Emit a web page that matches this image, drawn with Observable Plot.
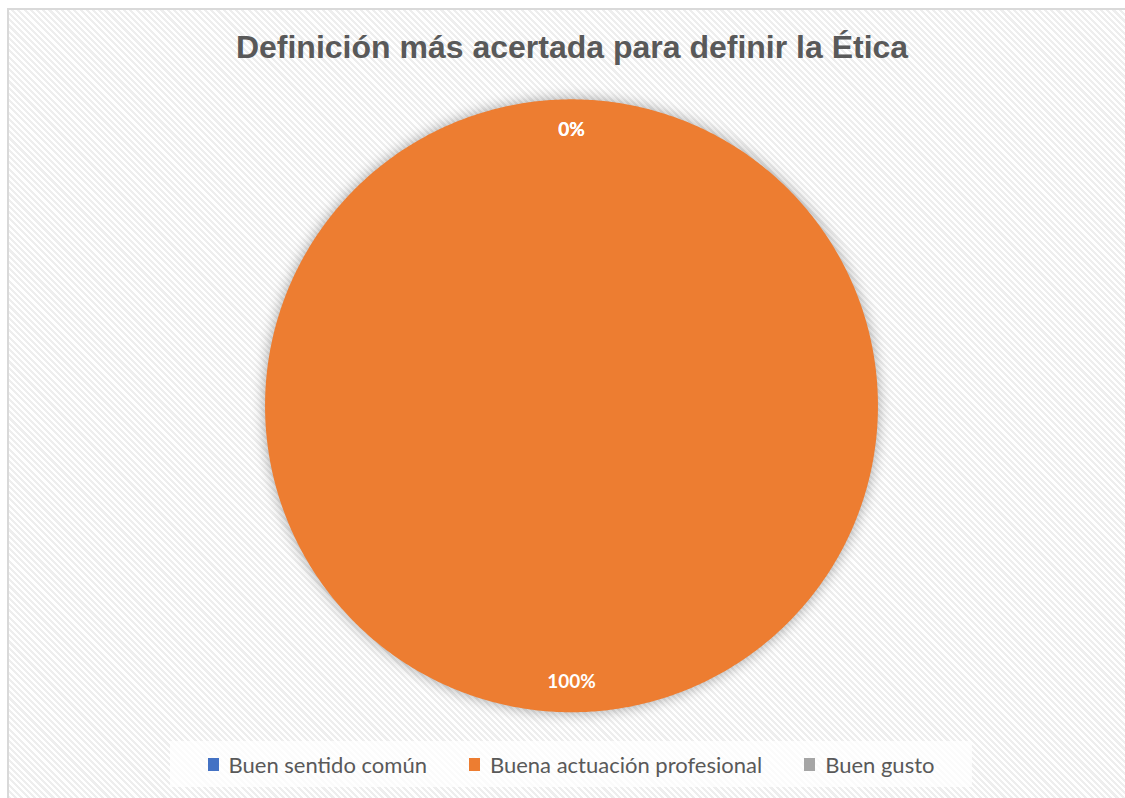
<!DOCTYPE html>
<html>
<head>
<meta charset="utf-8">
<script src="https://cdn.jsdelivr.net/npm/d3@7"></script>
<script src="https://cdn.jsdelivr.net/npm/@observablehq/plot@0.6"></script>
<style>
  html, body { margin: 0; padding: 0; background: #fff; width: 1125px; height: 798px; overflow: hidden; }
  #frame {
    position: absolute; left: 7px; top: 8px; width: 1126px; height: 800px;
    border-top: 2px solid #d9d9d9; border-left: 2px solid #d9d9d9;
    box-sizing: border-box;
    background: repeating-linear-gradient(45deg, #ffffff 0px, #ffffff 2.2px, #eeeeee 2.2px, #eeeeee 4.4px);
  }
  #title {
    position: absolute; left: 0; top: 19px; width: 1126px; text-align: center;
    font-family: "Liberation Sans", Arial, sans-serif; font-weight: bold; font-size: 32px;
    color: #595959; margin: 0;
  }
  #chart { position: absolute; left: 0; top: 0; }
  #legend {
    position: absolute; left: 161px; top: 731px; width: 802px; height: 46px;
    background: rgba(255,255,255,0.75);
    display: flex; align-items: center; justify-content: center; gap: 42px;
    font-family: Lato, "Open Sans", sans-serif; font-size: 22px; color: #595959;
  }
  .item { display: flex; align-items: center; gap: 10px; }
  .sw { width: 11px; height: 13px; display: inline-block; }
</style>
</head>
<body>
<div id="frame">
  <div id="chart"></div>
  <h2 id="title">Definición más acertada para definir la Ética</h2>
  <div id="legend"></div>
</div>
<script>
// Data
const categories = ["Buen sentido común", "Buena actuación profesional", "Buen gusto"];
const values = [0, 100, 0];
const colors = ["#4472C4", "#ED7D31", "#A5A5A5"];
const titleText = "Definición más acertada para definir la Ética";

// Layout
const W = 1126, H = 730, R = 307, CX = 563, CY = 396;

const data = categories.map((c, i) => ({ category: c, value: values[i] }));
const total = d3.sum(values);
const arcs = d3.pie().sort(null).value(d => d.value)(data);

// Build polygon points for each slice from the pie angles
const poly = [];
arcs.forEach(a => {
  const cat = a.data.category;
  poly.push({ category: cat, x: 0, y: 0 });
  const n = Math.max(2, Math.ceil((a.endAngle - a.startAngle) / (Math.PI / 360)));
  for (let k = 0; k <= n; k++) {
    const t = a.startAngle + (a.endAngle - a.startAngle) * k / n;
    poly.push({ category: cat, x: Math.sin(t), y: Math.cos(t) });
  }
  poly.push({ category: cat, x: 0, y: 0 });
});

const labels = arcs.map(a => {
  const m = (a.startAngle + a.endAngle) / 2;
  return {
    category: a.data.category,
    x: 0.9 * Math.sin(m),
    y: 0.9 * Math.cos(m),
    text: Math.round(100 * a.data.value / total) + "%"
  };
});

const chart = Plot.plot({
  width: W, height: H,
  margin: 0,
  style: { background: "transparent", overflow: "visible" },
  x: { domain: [-CX / R, (W - CX) / R], axis: null },
  y: { domain: [-(H - CY) / R, CY / R], axis: null },
  color: { domain: categories, range: colors },
  marks: [
    Plot.line(poly, { x: "x", y: "y", z: "category", fill: "category", stroke: "none", curve: "linear" }),
    Plot.text(labels, {
      x: "x", y: "y", text: "text", fill: "white",
      fontSize: 19, fontWeight: "bold", fontFamily: "Lato, 'Open Sans', sans-serif"
    })
  ]
});
document.getElementById("chart").appendChild(chart);
const lineG = chart.querySelector('g[aria-label="line"]');
if (lineG) lineG.style.filter = "drop-shadow(0px 0px 7px rgba(0,0,0,0.35))";

// Legend
const leg = document.getElementById("legend");
categories.forEach((c, i) => {
  const it = document.createElement("div");
  it.className = "item";
  it.innerHTML = `<span class="sw" style="background:${colors[i]}"></span><span>${c}</span>`;
  leg.appendChild(it);
});
</script>
</body>
</html>
